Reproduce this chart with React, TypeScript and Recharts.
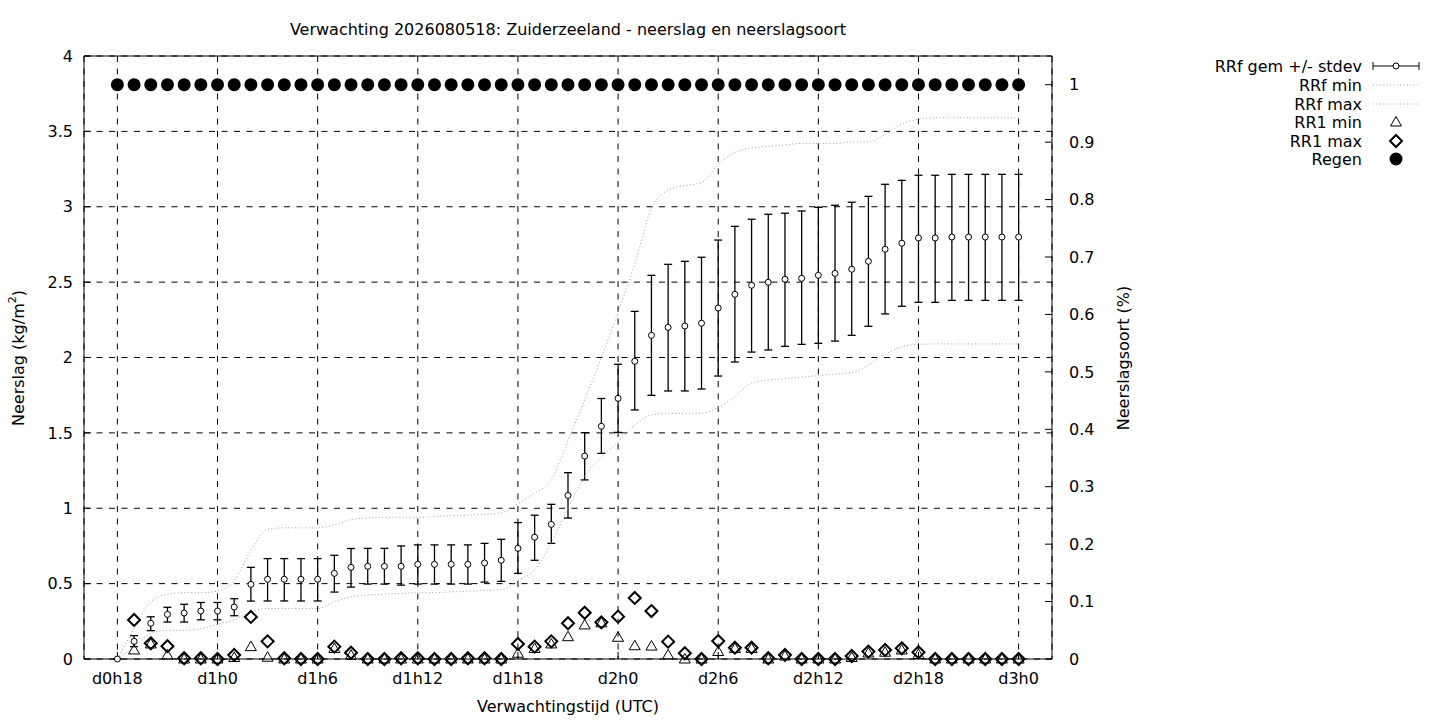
import {
  ComposedChart,
  XAxis,
  YAxis,
  CartesianGrid,
  Line,
  Scatter,
  ErrorBar,
  ReferenceLine,
} from 'recharts'

const FONT = '"DejaVu Sans", Verdana, sans-serif'

// forecast hour offsets (d0h18 .. d3h0)
const hours = [
  18, 19, 20, 21, 22, 23, 24, 25, 26, 27, 28, 29, 30, 31, 32, 33, 34, 35, 36, 37,
  38, 39, 40, 41, 42, 43, 44, 45, 46, 47, 48, 49, 50, 51, 52, 53, 54, 55, 56, 57,
  58, 59, 60, 61, 62, 63, 64, 65, 66, 67, 68, 69, 70, 71, 72,
]

const xTicks = [18, 24, 30, 36, 42, 48, 54, 60, 66, 72]
const xTickLabels = ['d0h18', 'd1h0', 'd1h6', 'd1h12', 'd1h18', 'd2h0', 'd2h6', 'd2h12', 'd2h18', 'd3h0']
const leftTicks = [0, 0.5, 1, 1.5, 2, 2.5, 3, 3.5, 4]
const rightTicks = [0, 0.1, 0.2, 0.3, 0.4, 0.5, 0.6, 0.7, 0.8, 0.9, 1]

const rrfGem = [
  0, 0.117, 0.237, 0.296, 0.305, 0.318, 0.318, 0.345, 0.495, 0.529,
  0.529, 0.529, 0.529, 0.568, 0.608, 0.615, 0.615, 0.615, 0.628, 0.628,
  0.628, 0.628, 0.637, 0.655, 0.734, 0.808, 0.893, 1.085, 1.346, 1.544,
  1.729, 1.975, 2.147, 2.2, 2.209, 2.227, 2.328, 2.419, 2.479, 2.499,
  2.519, 2.525, 2.545, 2.558, 2.585, 2.638, 2.718, 2.758, 2.793, 2.793,
  2.799, 2.799, 2.799, 2.799, 2.799,
]
const stdevLo = [
  0, 0.082, 0.188, 0.245, 0.245, 0.26, 0.26, 0.287, 0.384, 0.385,
  0.385, 0.385, 0.385, 0.444, 0.477, 0.497, 0.497, 0.49, 0.497, 0.497,
  0.497, 0.497, 0.51, 0.515, 0.568, 0.655, 0.767, 0.935, 1.188, 1.364,
  1.503, 1.652, 1.749, 1.778, 1.778, 1.791, 1.877, 1.97, 2.036, 2.05,
  2.074, 2.087, 2.094, 2.109, 2.147, 2.207, 2.289, 2.34, 2.366, 2.366,
  2.379, 2.379, 2.379, 2.379, 2.379,
]
const stdevHi = [
  0, 0.155, 0.28, 0.343, 0.363, 0.375, 0.375, 0.4, 0.608, 0.666,
  0.666, 0.666, 0.666, 0.688, 0.733, 0.734, 0.734, 0.75, 0.757, 0.757,
  0.757, 0.757, 0.767, 0.794, 0.905, 0.954, 1.026, 1.236, 1.501, 1.728,
  1.955, 2.306, 2.545, 2.618, 2.638, 2.665, 2.779, 2.87, 2.917, 2.95,
  2.957, 2.972, 2.996, 3.01, 3.03, 3.069, 3.149, 3.175, 3.209, 3.209,
  3.215, 3.215, 3.215, 3.215, 3.215,
]
const rrfMin = [
  0, 0.08, 0.17, 0.19, 0.19, 0.2, 0.23, 0.26, 0.31, 0.335,
  0.335, 0.335, 0.335, 0.38, 0.413, 0.425, 0.43, 0.435, 0.44, 0.44,
  0.445, 0.45, 0.455, 0.46, 0.52, 0.59, 0.77, 1.0, 1.21, 1.34,
  1.44, 1.55, 1.62, 1.63, 1.63, 1.63, 1.67, 1.74, 1.83, 1.85,
  1.86, 1.87, 1.88, 1.89, 1.9, 1.95, 2.02, 2.07, 2.087, 2.09,
  2.09, 2.09, 2.09, 2.09, 2.09,
]
const rrfMax = [
  0, 0.2, 0.38, 0.43, 0.44, 0.44, 0.45, 0.52, 0.72, 0.86,
  0.87, 0.87, 0.87, 0.89, 0.925, 0.935, 0.94, 0.94, 0.94, 0.945,
  0.95, 0.955, 0.96, 0.97, 1.03, 1.1, 1.19, 1.45, 1.72, 2.0,
  2.3, 2.62, 2.99, 3.11, 3.14, 3.16, 3.28, 3.36, 3.39, 3.4,
  3.41, 3.42, 3.42, 3.42, 3.43, 3.43, 3.48, 3.55, 3.58, 3.59,
  3.59, 3.59, 3.59, 3.59, 3.59,
]
const rr1Min = [
  null, 0.06, 0.1, 0.027, 0, 0, 0, 0.01, 0.082, 0.012,
  0, 0, 0, 0.07, 0.025, 0, 0, 0, 0, 0,
  0, 0, 0, 0, 0.038, 0.07, 0.1, 0.148, 0.226, 0.24,
  0.144, 0.088, 0.086, 0.027, 0, 0, 0.05, 0.07, 0.07, 0,
  0.02, 0, 0, 0, 0.01, 0.04, 0.045, 0.06, 0.03, 0,
  0, 0, 0, 0, 0,
]
const rr1Max = [
  null, 0.259, 0.104, 0.085, 0.005, 0.005, 0, 0.027, 0.279, 0.117,
  0.005, 0, 0, 0.082, 0.042, 0, 0, 0.005, 0.005, 0,
  0, 0.005, 0.005, 0, 0.1, 0.082, 0.117, 0.237, 0.307, 0.243,
  0.281, 0.405, 0.318, 0.115, 0.038, 0, 0.119, 0.075, 0.075, 0.005,
  0.027, 0, 0, 0, 0.02, 0.049, 0.06, 0.071, 0.045, 0,
  0, 0, 0, 0, 0,
]
// neerslagsoort: fraction rain
const regen = [
  1, 1, 1, 1, 1, 1, 1, 1, 1, 1, 1, 1, 1, 1, 1, 1, 1, 1, 1, 1,
  1, 1, 1, 1, 1, 1, 1, 1, 1, 1, 1, 1, 1, 1, 1, 1, 1, 1, 1, 1,
  1, 1, 1, 1, 1, 1, 1, 1, 1, 1, 1, 1, 1, 1, 1,
]

const rows = hours.map((h, i) => ({
  h,
  gem: rrfGem[i],
  err: [rrfGem[i] - stdevLo[i], stdevHi[i] - rrfGem[i]],
  rmin: rrfMin[i],
  rmax: rrfMax[i],
  r1min: rr1Min[i],
  r1max: rr1Max[i],
  regen: regen[i],
}))

const ok = (p: any) => p && p.cx != null && p.cy != null && !isNaN(p.cx) && !isNaN(p.cy)

const Ring = (p: any) =>
  ok(p) ? <circle cx={p.cx} cy={p.cy} r={3} fill="#fff" stroke="#000" strokeWidth={1} /> : <g />

const Tri = (p: any) =>
  ok(p) ? (
    <polygon
      points={`${p.cx},${p.cy - 5.5} ${p.cx - 5.5},${p.cy + 4} ${p.cx + 5.5},${p.cy + 4}`}
      fill="none"
      stroke="#000"
      strokeWidth={1}
    />
  ) : (
    <g />
  )

const Diamond = (p: any) =>
  ok(p) ? (
    <polygon
      points={`${p.cx},${p.cy - 6} ${p.cx + 6},${p.cy} ${p.cx},${p.cy + 6} ${p.cx - 6},${p.cy}`}
      fill="none"
      stroke="#000"
      strokeWidth={2}
    />
  ) : (
    <g />
  )

const Dot = (p: any) => (ok(p) ? <circle cx={p.cx} cy={p.cy} r={6.5} fill="#000" /> : <g />)

const tickStyle = { fill: '#000', fontSize: 16, fontFamily: FONT }

function Overlay() {
  const lx = 1362
  const sx1 = 1373
  const sx2 = 1419
  const sc = 1396
  const legend = [
    { label: 'RRf gem +/- stdev', y: 66 },
    { label: 'RRf min', y: 85 },
    { label: 'RRf max', y: 104 },
    { label: 'RR1 min', y: 122 },
    { label: 'RR1 max', y: 141 },
    { label: 'Regen', y: 159 },
  ]
  return (
    <svg
      width={1440}
      height={720}
      style={{ position: 'absolute', left: 0, top: 0, pointerEvents: 'none' }}
      fontFamily={FONT}
      fontSize={16}
    >
      <text x={568} y={29} textAnchor="middle" dominantBaseline="central">
        Verwachting 2026080518: Zuiderzeeland - neerslag en neerslagsoort
      </text>
      <text x={568} y={706} textAnchor="middle" dominantBaseline="central">
        Verwachtingstijd (UTC)
      </text>
      <text x={18} y={358} textAnchor="middle" dominantBaseline="central" transform="rotate(-90 18 358)">
        Neerslag (kg/m
        <tspan dy={-6} fontSize={11}>2</tspan>
        <tspan dy={6}>)</tspan>
      </text>
      <text x={1123} y={358} textAnchor="middle" dominantBaseline="central" transform="rotate(-90 1123 358)">
        Neerslagsoort (%)
      </text>

      {legend.map((l) => (
        <text key={l.label} x={lx} y={l.y} textAnchor="end" dominantBaseline="central">
          {l.label}
        </text>
      ))}
      <g stroke="#000" strokeWidth={1}>
        <line x1={sx1} y1={66} x2={sx2} y2={66} />
        <line x1={sx1} y1={62} x2={sx1} y2={70} />
        <line x1={sx2} y1={62} x2={sx2} y2={70} />
      </g>
      <Ring cx={sc} cy={66} />
      <line x1={sx1} y1={85} x2={sx2} y2={85} stroke="#a0a0a0" strokeDasharray="1 2.4" />
      <line x1={sx1} y1={104} x2={sx2} y2={104} stroke="#a0a0a0" strokeDasharray="1 2.4" />
      <Tri cx={sc} cy={122} />
      <Diamond cx={sc} cy={141} />
      <Dot cx={sc} cy={159} />
    </svg>
  )
}

export default function App() {
  return (
    <div style={{ position: 'absolute', left: 0, top: 0, width: 1440, height: 720, background: '#fff' }}>
      <ComposedChart
        width={1440}
        height={720}
        data={rows}
        margin={{ top: 56, right: 308, bottom: 11, left: 24 }}
      >
        <CartesianGrid yAxisId="left" stroke="#000" strokeDasharray="6 6.5" />
        <XAxis
          dataKey="h"
          type="number"
          domain={[16, 74]}
          ticks={xTicks}
          tickFormatter={(v) => xTickLabels[xTicks.indexOf(v)] ?? ''}
          height={50}
          tick={tickStyle}
          axisLine={{ stroke: '#000' }}
          tickLine={{ stroke: '#000' }}
          tickSize={-7}
          tickMargin={21}
          interval={0}
        />
        <YAxis
          yAxisId="left"
          orientation="left"
          domain={[0, 4]}
          ticks={leftTicks}
          width={60}
          tick={tickStyle}
          axisLine={{ stroke: '#000' }}
          tickLine={{ stroke: '#000' }}
          tickSize={-7}
          tickMargin={18}
          interval={0}
        />
        <YAxis
          yAxisId="right"
          orientation="right"
          domain={[0, 1.05]}
          ticks={rightTicks}
          width={80}
          tick={tickStyle}
          axisLine={{ stroke: '#000' }}
          tickLine={{ stroke: '#000' }}
          tickSize={-7}
          tickMargin={24}
          interval={0}
        />
        <ReferenceLine yAxisId="left" y={4} stroke="#000" strokeWidth={1} />

        <Scatter yAxisId="left" dataKey="gem" shape={Ring} isAnimationActive={false}>
          <ErrorBar dataKey="err" direction="y" width={4} stroke="#000" strokeWidth={1.3} isAnimationActive={false} />
        </Scatter>
        <Line
          yAxisId="left"
          dataKey="rmin"
          type="monotone"
          stroke="#a0a0a0"
          strokeWidth={1}
          strokeDasharray="1 2.4"
          dot={false}
          activeDot={false}
          isAnimationActive={false}
        />
        <Line
          yAxisId="left"
          dataKey="rmax"
          type="monotone"
          stroke="#a0a0a0"
          strokeWidth={1}
          strokeDasharray="1 2.4"
          dot={false}
          activeDot={false}
          isAnimationActive={false}
        />
        <Scatter yAxisId="left" dataKey="r1min" shape={Tri} isAnimationActive={false} />
        <Scatter yAxisId="left" dataKey="r1max" shape={Diamond} isAnimationActive={false} />
        <Scatter yAxisId="right" dataKey="regen" shape={Dot} isAnimationActive={false} />
      </ComposedChart>
      <Overlay />
    </div>
  )
}
